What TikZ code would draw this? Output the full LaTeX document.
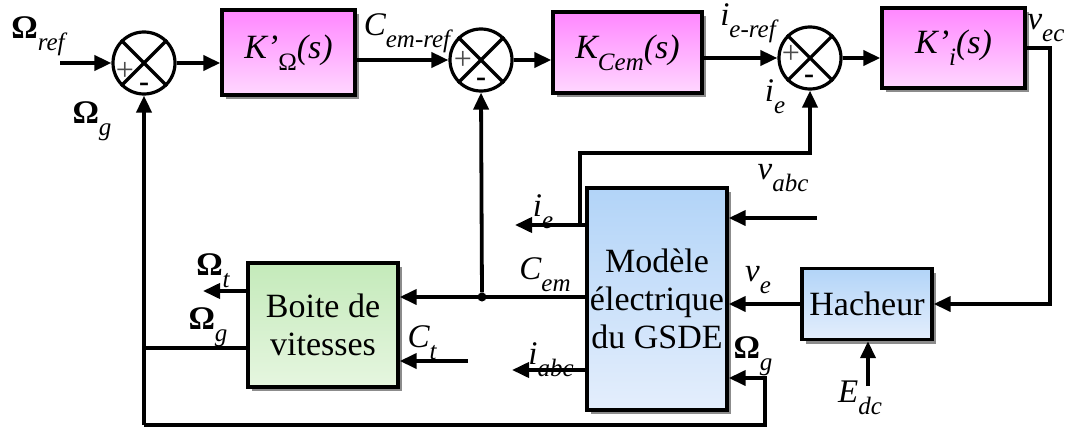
\documentclass[tikz,border=0pt]{standalone}
\usepackage{fontspec}
\setmainfont{Liberation Serif}
\usetikzlibrary{arrows.meta,shadows,calc}
\definecolor{pinkA}{RGB}{255,135,255}
\definecolor{pinkB}{RGB}{255,215,255}
\definecolor{blueA}{RGB}{178,212,248}
\definecolor{blueB}{RGB}{228,238,252}
\definecolor{greenA}{RGB}{196,234,186}
\definecolor{greenB}{RGB}{230,246,224}
\newcommand\sbs[1]{\raisebox{-0.36em}{\fontsize{25}{25}\selectfont\itshape #1}}
\newcommand\Om{\textbf{Ω}}
\tikzset{
  every node/.style={font=\fontsize{33}{36}\selectfont},
  wire/.style={line width=3.8pt},
  arr/.style={wire,-{Triangle[length=17pt,width=15pt]}},
  blk/.style={draw,line width=3.4pt,inner sep=0pt,align=center,
    drop shadow={shadow xshift=4pt,shadow yshift=-4pt,opacity=0.45,fill=black}},
  pinkblk/.style={blk,top color=pinkA,bottom color=pinkB,font=\fontsize{34}{36}\selectfont\itshape},
  blueblk/.style={blk,top color=blueA,bottom color=blueB,font=\fontsize{34}{38}\selectfont},
  greenblk/.style={blk,top color=greenA,bottom color=greenB,font=\fontsize{34}{38}\selectfont},
  sumnode/.style={circle,draw,line width=3.2pt,minimum size=62pt,inner sep=0pt,fill=white},
  lbl/.style={inner sep=0pt},
  plus/.style={inner sep=0pt,text=black!70,font=\fontsize{32}{32}\selectfont},
  minus/.style={inner sep=0pt,font=\fontsize{30}{30}\selectfont\bfseries},
  jdot/.style={circle,fill,inner sep=0pt,minimum size=9pt}
}
\newcommand\sumx[1]{\draw[line width=3.2pt] (#1.north west) -- (#1.south east) (#1.north east) -- (#1.south west);}
\begin{document}
\begin{tikzpicture}[x=1pt,y=-1pt]
\useasboundingbox (0,0) rectangle (1067,428);
% blocks
\node[pinkblk,minimum width=133pt,minimum height=85pt] (K1) at (288.5,52.5) {K’\sbs{\upshape Ω}(s)};
\node[pinkblk,minimum width=149pt,minimum height=81pt] (K2) at (627.5,52.5) {K\sbs{Cem}(s)};
\node[pinkblk,minimum width=143pt,minimum height=80pt] (K3) at (953.5,48) {K’\sbs{i}(s)};
\node[blueblk,minimum width=140pt,minimum height=222pt] (G) at (657,299) {Modèle\\électrique\\du GSDE};
\node[greenblk,minimum width=150pt,minimum height=124pt] (B) at (323,325) {Boite de\\vitesses};
\node[blueblk,minimum width=130pt,minimum height=71pt] (H) at (867,304) {Hacheur};
% summing junctions
\node[sumnode] (s1) at (144,63) {};
\node[sumnode] (s2) at (481,60) {};
\node[sumnode] (s3) at (810,58) {};
\sumx{s1}\sumx{s2}\sumx{s3}
\node[plus] at (125,71) {+};
\node[plus] at (463,60) {+};
\node[plus] at (791,54) {+};
\node[minus] at (144,87) {-};
\node[minus] at (481,82) {-};
\node[minus] at (809,79) {-};
% coordinates
\coordinate (in) at (60,63);
\coordinate (c1) at (1050,48);
\coordinate (c2) at (1050,304);
\coordinate (edc) at (868,386);
\coordinate (vabc) at (817,218);
\coordinate (og) at (765,378);
\coordinate (bl) at (144,425);
\coordinate (br) at (765,425);
\coordinate (ogb) at (144,348);
\coordinate (ot) at (203,291);
\coordinate (ct) at (468,361);
\coordinate (cem) at (587,297);
\node[jdot] (j) at (482,297) {};
\coordinate (ieo) at (515,225);
\coordinate (iet) at (580,225);
\coordinate (iec) at (580,153);
\coordinate (iabc) at (512,370);
% wires
\draw[arr] (in) -- (s1.west);
\draw[arr] (s1.east) -- (s1.east -| K1.west);
\draw[arr] (K1.east |- s2.west) -- (s2.west);
\draw[arr] (s2.east) -- (s2.east -| K2.west);
\draw[arr] (K2.east |- s3.west) -- (s3.west);
\draw[arr] (s3.east) -- (s3.east -| K3.west);
\draw[arr] (K3.east) -- (c1) -- (c2) -- (H.east);
\draw[arr] (edc) -- (edc |- H.south);
\draw[arr] (H.west) -- (H.west -| G.east);
\draw[arr] (vabc) -- (vabc -| G.east);
\draw[arr] (bl) -- (s1.south);
\draw[arr] (bl) -- (br) -- (og) -- (og -| G.east);
\draw[wire] (ogb -| B.west) -- (ogb);
\draw[arr] (ot -| B.west) -- (ot);
\draw[arr] (ct) -- (ct -| B.east);
\draw[arr] (cem -| G.west) -- (cem -| B.east);
\draw[arr] (j) -- (s2.south);
\draw[arr] (ieo -| G.west) -- (ieo);
\draw[arr] (iet) -- (iec) -- (iec -| s3.south) -- (s3.south);
\draw[arr] (iabc -| G.west) -- (iabc);
% labels
\node[lbl] at (38,36) {\Om\sbs{ref}};
\node[lbl] at (92,121) {\Om\sbs{g}};
\node[lbl] at (407,33) {\itshape C\sbs{em-ref}};
\node[lbl] at (748,23) {\itshape i\sbs{e-ref}};
\node[lbl] at (775,97) {\itshape i\sbs{e}};
\node[lbl] at (1046,28) {\itshape v\sbs{ec}};
\node[lbl] at (543,212) {\itshape i\sbs{e}};
\node[lbl] at (783,178) {\itshape v\sbs{abc}};
\node[lbl] at (545,275) {\itshape C\sbs{em}};
\node[lbl] at (758,280) {\itshape v\sbs{e}};
\node[lbl] at (422,343) {\itshape C\sbs{t}};
\node[lbl] at (551,360) {\itshape i\sbs{abc}};
\node[lbl] at (753,356) {\Om\sbs{g}};
\node[lbl] at (860,398) {\itshape E\sbs{dc}};
\node[lbl] at (213,271) {\Om\sbs{t}};
\node[lbl] at (208,327) {\Om\sbs{g}};
\end{tikzpicture}
\end{document}
